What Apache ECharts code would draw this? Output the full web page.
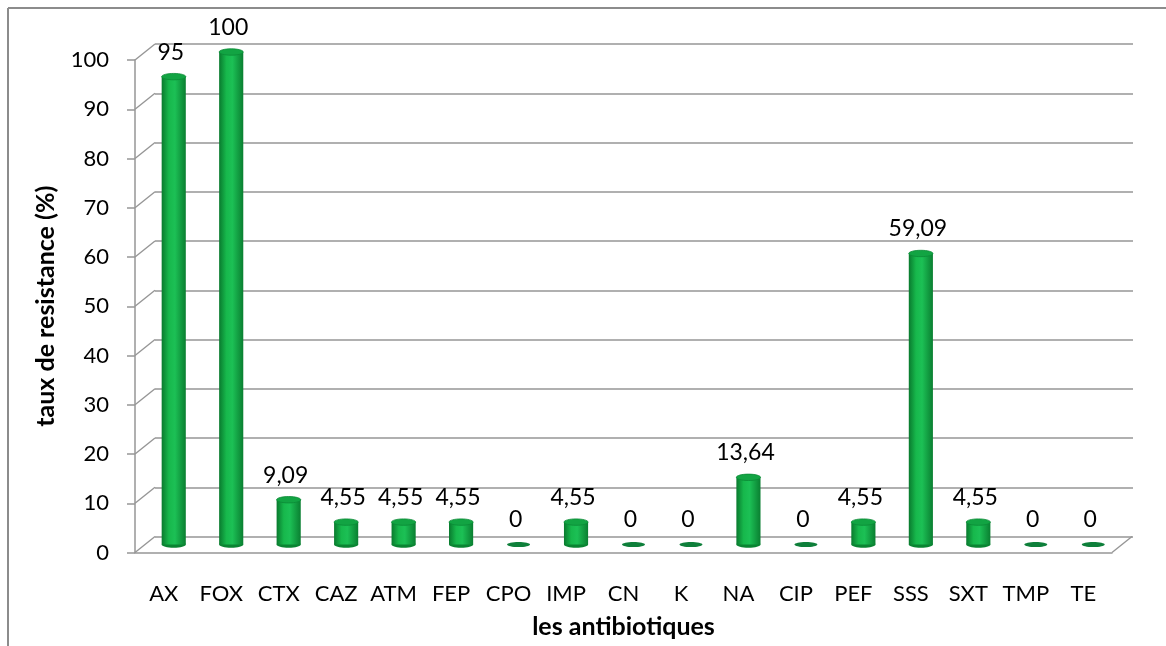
<!DOCTYPE html>
<html>
<head>
<meta charset="utf-8">
<script src="https://cdn.jsdelivr.net/npm/echarts@6/dist/echarts.min.js"></script>
<style>
html,body{margin:0;padding:0;background:#fff;}
#chart{width:1166px;height:646px;}
</style>
</head>
<body>
<div id="chart"></div>
<script>
const categories = ['AX','FOX','CTX','CAZ','ATM','FEP','CPO','IMP','CN','K','NA','CIP','PEF','SSS','SXT','TMP','TE'];
const values = [95, 100, 9.09, 4.55, 4.55, 4.55, 0, 4.55, 0, 0, 13.64, 0, 4.55, 59.09, 4.55, 0, 0];
const yTicks = [0, 10, 20, 30, 40, 50, 60, 70, 80, 90, 100];

const DX = 20, DY = -16;
const FONT = 'Lato';
const GRID_COLOR = '#969696';

function fmt(v) { return String(v).replace('.', ','); }

const chart = echarts.init(document.getElementById('chart'));

const barData = values.map((v, i) => [i, v]);
const tickData = yTicks.map(t => [0, t]);

const option = {
  animation: false,
  backgroundColor: '#fff',
  textStyle: { fontFamily: FONT },
  graphic: [
    { type: 'line', shape: { x1: 8, y1: 8, x2: 1166, y2: 8 }, style: { stroke: '#8c8c8c', lineWidth: 2 } },
    { type: 'line', shape: { x1: 8, y1: 8, x2: 8, y2: 646 }, style: { stroke: '#8c8c8c', lineWidth: 2 } }
  ],
  grid: [
    { left: 135, right: 54, top: 60, bottom: 93.5 },
    { left: 155, right: 33, top: 44, bottom: 109.5 }
  ],
  xAxis: [
    {
      type: 'category', gridIndex: 0, data: categories,
      axisLine: { lineStyle: { color: GRID_COLOR, width: 1.5 } },
      axisTick: { alignWithLabel: false, length: 9, lineStyle: { color: GRID_COLOR, width: 1.5 } },
      axisLabel: { interval: 0, color: '#000', fontSize: 22, fontFamily: FONT, margin: 30 },
      name: 'les antibiotiques', nameLocation: 'middle', nameGap: 62,
      nameTextStyle: { color: '#000', fontSize: 25, fontWeight: 'bold', fontFamily: FONT }
    },
    {
      type: 'category', gridIndex: 1, data: categories,
      axisLine: { show: false }, axisTick: { show: false }, axisLabel: { show: false }
    }
  ],
  yAxis: [
    {
      type: 'value', gridIndex: 0, min: 0, max: 100, interval: 10,
      axisLine: { show: true, lineStyle: { color: GRID_COLOR, width: 1.5 } },
      axisTick: { show: true, length: 8, lineStyle: { color: GRID_COLOR, width: 1.5 } },
      splitLine: { show: false },
      axisLabel: { color: '#000', fontSize: 22, fontFamily: FONT, margin: 26 },
      name: 'taux de resistance (%)', nameLocation: 'middle', nameGap: 77,
      nameTextStyle: { color: '#000', fontSize: 25, fontWeight: 'bold', fontFamily: FONT }
    },
    {
      type: 'value', gridIndex: 1, min: 0, max: 100, interval: 10,
      axisLine: { show: false }, axisTick: { show: false }, axisLabel: { show: false },
      splitLine: { show: true, lineStyle: { color: GRID_COLOR, width: 1.7 } }
    }
  ],
  series: [
    {
      // side wall diagonals
      type: 'custom', xAxisIndex: 0, yAxisIndex: 0, data: tickData, z: 1,
      renderItem: function (params, api) {
        const p = api.coord([0, api.value(1)]);
        const x0 = p[0] - api.size([1, 0])[0] / 2;
        return {
          type: 'line',
          shape: { x1: x0, y1: p[1], x2: x0 + DX, y2: p[1] + DY },
          style: { stroke: GRID_COLOR, lineWidth: 1.5 }
        };
      }
    },
    {
      // floor right edge
      type: 'custom', xAxisIndex: 0, yAxisIndex: 0, data: [[categories.length - 1, 0]], z: 1,
      renderItem: function (params, api) {
        const p = api.coord([api.value(0), 0]);
        const x1 = p[0] + api.size([1, 0])[0] / 2;
        return {
          type: 'line',
          shape: { x1: x1, y1: p[1], x2: x1 + DX, y2: p[1] + DY },
          style: { stroke: GRID_COLOR, lineWidth: 1.5 }
        };
      }
    },
    {
      // cylinders
      type: 'custom', xAxisIndex: 0, yAxisIndex: 0, data: barData, z: 3,
      renderItem: function (params, api) {
        const i = api.value(0), v = api.value(1);
        const base = api.coord([i, 0]);
        const top = api.coord([i, v]);
        const w = api.size([1, 0])[0] * 0.42;
        const cx = base[0] + DX / 2;
        const by = base[1] + DY / 2;
        const ty = top[1] + DY / 2;
        const ry = 3.2;
        const children = [];
        if (v > 0) {
          const grad = new echarts.graphic.LinearGradient(0, 0, 1, 0, [
            { offset: 0, color: '#097a2e' },
            { offset: 0.3, color: '#17b84c' },
            { offset: 0.55, color: '#1cc055' },
            { offset: 1, color: '#0a7f31' }
          ]);
          children.push({
            type: 'ellipse', shape: { cx: cx, cy: by, rx: w / 2, ry: ry },
            style: { fill: '#0a8432' }
          });
          children.push({
            type: 'rect', shape: { x: cx - w / 2, y: ty, width: w, height: by - ty },
            style: { fill: grad }
          });
          children.push({
            type: 'ellipse', shape: { cx: cx, cy: ty, rx: w / 2, ry: ry },
            style: { fill: '#12a443', stroke: '#0b8a36', lineWidth: 0.8 }
          });
        } else {
          children.push({
            type: 'ellipse', shape: { cx: cx, cy: by, rx: w / 2 * 0.95, ry: 2.6 },
            style: { fill: '#0e7f3a' }
          });
        }
        children.push({
          type: 'text',
          style: {
            x: cx - 3, y: ty - 13, text: fmt(v),
            fill: '#000', font: '23px ' + FONT,
            textAlign: 'center', textVerticalAlign: 'bottom'
          }
        });
        return { type: 'group', children: children };
      }
    }
  ]
};

chart.setOption(option);
</script>
</body>
</html>
